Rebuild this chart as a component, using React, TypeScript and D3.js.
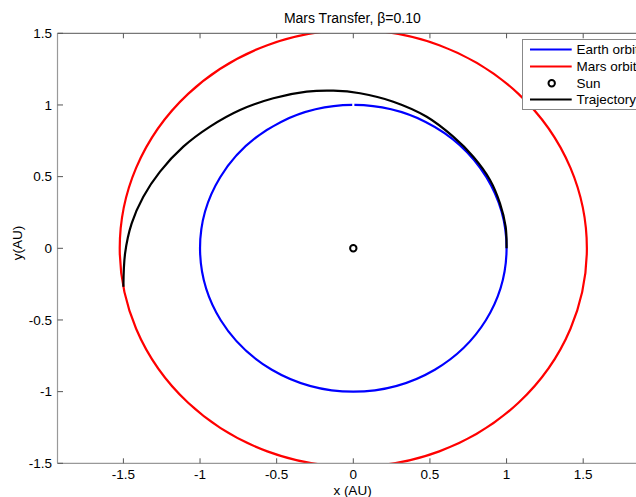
import React from "react";
import * as d3 from "d3";

const W = 636;
const H = 497;

const xDomain = [-1.93, 1.93];
const yDomain = [-1.5, 1.5];
const xTicks = [-1.5, -1, -0.5, 0, 0.5, 1, 1.5];
const yTicks = [-1.5, -1, -0.5, 0, 0.5, 1, 1.5];

const earthRadius = 1.0;
const marsRadius = 1.524;
const sunPos = [0, 0];

// Trajectory points
const trajX = [1.0, 0.994, 0.957, 0.892, 0.783, 0.652, 0.479, 0.261, 0.044, -0.13, -0.304, -0.522, -0.739, -0.935, -1.109, -1.261, -1.37, -1.446, -1.489, -1.5];
const trajY = [0.0, 0.151, 0.314, 0.477, 0.639, 0.779, 0.918, 1.023, 1.082, 1.1, 1.093, 1.047, 0.965, 0.849, 0.709, 0.535, 0.36, 0.174, -0.035, -0.268];

const legendLabels = ["Earth orbit", "Mars orbit", "Sun", "Trajectory"];
const legendColors = ["#0000ff", "#ff0000", "#000000", "#000000"];

const FONT = "'Liberation Sans', Arial, Helvetica, sans-serif";

export default function App() {
  const left = 57.5, right = 649.1, top = 33.3, bottom = 463.3;
  const x = d3.scaleLinear().domain(xDomain).range([left, right]);
  const y = d3.scaleLinear().domain(yDomain).range([bottom, top]);

  const line = d3
    .line<number>()
    .x((_, i) => x(trajX[i]))
    .y((_, i) => y(trajY[i]))
    .curve(d3.curveCatmullRom.alpha(0.5));
  const trajPath = line(trajX) || "";

  const orbitPath = (r: number, gapDeg: number) => {
    const rx = x(r) - x(0);
    const ry = y(0) - y(r);
    const a1 = ((90 + gapDeg) * Math.PI) / 180;
    const a2 = ((90 - gapDeg) * Math.PI) / 180;
    const p1 = [x(r * Math.cos(a1)), y(r * Math.sin(a1))];
    const p2 = [x(r * Math.cos(a2)), y(r * Math.sin(a2))];
    return `M${p1[0]},${p1[1]} A${rx},${ry} 0 1 0 ${p2[0]},${p2[1]}`;
  };

  const legX = 522.5, legY = 39.5, legW = 130, legH = 70;
  const rowY = [49.5, 66.5, 83.3, 99.5];

  return (
    <svg width={W} height={H} style={{ position: "absolute", left: 0, top: 0, background: "#fff" }} fontFamily={FONT}>
      <defs>
        <clipPath id="plotclip">
          <rect x={left} y={top} width={right - left} height={bottom - top} />
        </clipPath>
      </defs>
      <rect x={0} y={0} width={W} height={H} fill="#fff" />
      {/* title */}
      <text x={352.3} y={23} textAnchor="middle" fontSize={14} fill="#000">
        Mars Transfer, β=0.10
      </text>

      <g clipPath="url(#plotclip)">
        <ellipse cx={x(0)} cy={y(0)} rx={x(marsRadius) - x(0)} ry={y(0) - y(marsRadius)} fill="none" stroke="#ff0000" strokeWidth={2.2} />
        <path d={orbitPath(earthRadius, 0.4)} fill="none" stroke="#0000ff" strokeWidth={2.2} />
        <path d={trajPath} fill="none" stroke="#000" strokeWidth={2.2} />
        <circle cx={x(sunPos[0])} cy={y(sunPos[1])} r={3.2} fill="none" stroke="#000" strokeWidth={2} />
      </g>

      {/* axes */}
      <line x1={left} x2={right} y1={top} y2={top} stroke="#555" strokeWidth={1} />
      <line x1={left} x2={right} y1={bottom} y2={bottom} stroke="#999" strokeWidth={1.2} />
      <line x1={left} x2={left} y1={top} y2={bottom} stroke="#999" strokeWidth={1.2} />
      {xTicks.map((t) => (
        <g key={"xt" + t}>
          <line x1={x(t)} x2={x(t)} y1={bottom} y2={bottom - 5} stroke="#555" />
          <line x1={x(t)} x2={x(t)} y1={top} y2={top + 5} stroke="#555" />
          <text x={x(t)} y={479.3} textAnchor="middle" fontSize={13.5} fill="#000">
            {String(t)}
          </text>
        </g>
      ))}
      {yTicks.map((t) => (
        <g key={"yt" + t}>
          <line x1={left} x2={left + 5.5} y1={y(t)} y2={y(t)} stroke="#555" />
          <text x={52} y={y(t) + 4.8} textAnchor="end" fontSize={13.5} fill="#000">
            {String(t)}
          </text>
        </g>
      ))}
      <text x={352.5} y={494.5} textAnchor="middle" fontSize={13.5} fill="#000">
        x (AU)
      </text>
      <text x={21.5} y={243} textAnchor="middle" fontSize={13.5} fill="#000" transform="rotate(-90 21.5 243)">
        y(AU)
      </text>

      {/* legend */}
      <rect x={legX} y={legY} width={legW} height={legH} fill="#fff" stroke="#888" strokeWidth={1} />
      {legendLabels.map((lab, i) => (
        <g key={lab}>
          {lab === "Sun" ? (
            <circle cx={551.7} cy={rowY[i]} r={3.2} fill="none" stroke="#000" strokeWidth={2} />
          ) : (
            <line x1={530} x2={571.7} y1={rowY[i]} y2={rowY[i]} stroke={legendColors[i]} strokeWidth={2.2} />
          )}
          <text x={576.5} y={rowY[i] + 4.8} fontSize={13.5} fill="#000">
            {lab}
          </text>
        </g>
      ))}
    </svg>
  );
}
